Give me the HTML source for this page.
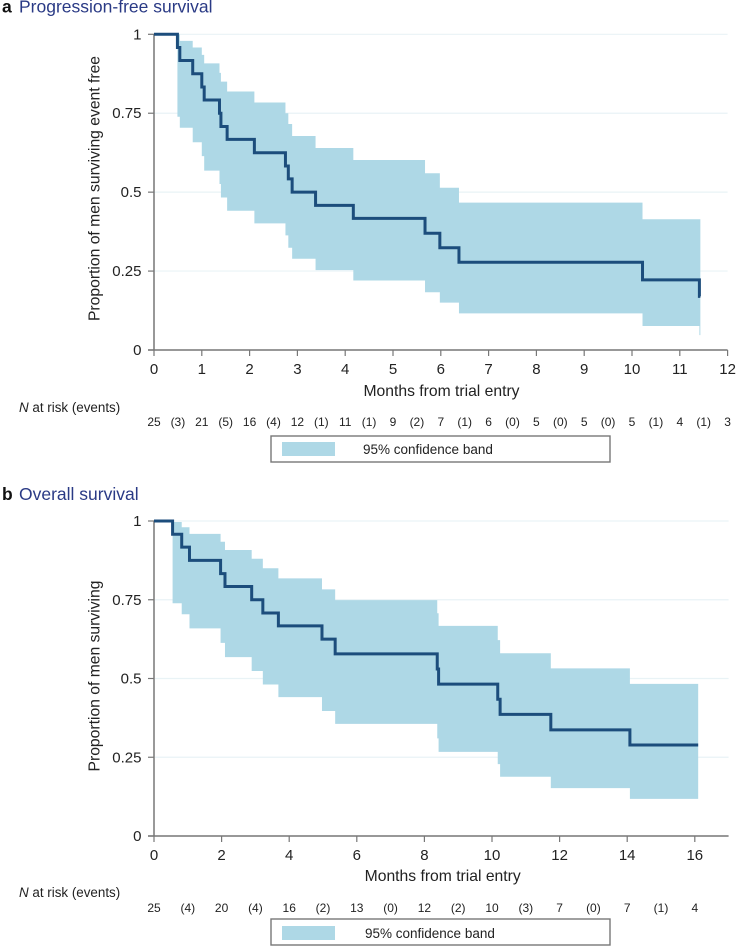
<!DOCTYPE html>
<html lang="en">
<head>
<meta charset="utf-8">
<title>Kaplan-Meier survival curves</title>
<style>
  html, body { margin: 0; padding: 0; background: #fff; }
  #stage { display: block; width: 736px; height: 947px; }
  text { font-family: "Liberation Sans", sans-serif; fill: #222; }
</style>
</head>
<body>
<svg id="stage" width="736" height="947" viewBox="0 0 736 947" xmlns="http://www.w3.org/2000/svg"></svg>
<script>
// Panel a: progression-free survival
const pfsEventMonths = [0.49, 0.54, 0.81, 1.00, 1.05, 1.37, 1.40, 1.53, 2.10, 2.75, 2.81, 2.89, 3.38, 4.17, 5.67, 5.98, 6.38, 10.22, 11.41];
const pfsSurvival = [0.958, 0.917, 0.875, 0.833, 0.792, 0.75, 0.708, 0.667, 0.625, 0.583, 0.542, 0.5, 0.458, 0.417, 0.37, 0.324, 0.278, 0.222, 0.17];
const pfsUpper = [1.0, 0.979, 0.958, 0.935, 0.908, 0.878, 0.85, 0.819, 0.784, 0.75, 0.716, 0.678, 0.64, 0.602, 0.56, 0.514, 0.467, 0.414, 0.414];
const pfsLower = [0.739, 0.704, 0.658, 0.614, 0.568, 0.526, 0.483, 0.441, 0.401, 0.363, 0.324, 0.289, 0.253, 0.22, 0.183, 0.15, 0.116, 0.076, 0.047];
const pfsEndMonth = 11.43;
const pfsXTicks = [0, 1, 2, 3, 4, 5, 6, 7, 8, 9, 10, 11, 12];
const pfsRiskMonths = [0, 0.5, 1, 1.5, 2, 2.5, 3, 3.5, 4, 4.5, 5, 5.5, 6, 6.5, 7, 7.5, 8, 8.5, 9, 9.5, 10, 10.5, 11, 11.5, 12];
const pfsRiskLabels = ["25", "(3)", "21", "(5)", "16", "(4)", "12", "(1)", "11", "(1)", "9", "(2)", "7", "(1)", "6", "(0)", "5", "(0)", "5", "(0)", "5", "(1)", "4", "(1)", "3"];

// Panel b: overall survival
const osEventMonths = [0.55, 0.82, 1.05, 1.97, 2.10, 2.89, 3.22, 3.68, 4.97, 5.36, 8.38, 8.42, 10.17, 10.24, 11.74, 14.08];
const osSurvival = [0.958, 0.917, 0.875, 0.833, 0.792, 0.75, 0.708, 0.667, 0.625, 0.578, 0.53, 0.482, 0.434, 0.386, 0.337, 0.289];
const osUpper = [0.997, 0.98, 0.959, 0.934, 0.908, 0.88, 0.85, 0.818, 0.783, 0.749, 0.707, 0.667, 0.622, 0.58, 0.532, 0.483];
const osLower = [0.739, 0.704, 0.659, 0.613, 0.568, 0.524, 0.481, 0.441, 0.397, 0.356, 0.31, 0.267, 0.228, 0.188, 0.152, 0.118];
const osEndMonth = 16.1;
const osXTicks = [0, 2, 4, 6, 8, 10, 12, 14, 16];
const osRiskMonths = [0, 1, 2, 3, 4, 5, 6, 7, 8, 9, 10, 11, 12, 13, 14, 15, 16];
const osRiskLabels = ["25", "(4)", "20", "(4)", "16", "(2)", "13", "(0)", "12", "(2)", "10", "(3)", "7", "(0)", "7", "(1)", "4"];

const yTickValues = [0, 0.25, 0.5, 0.75, 1];
const yTickLabels = ["0", "0.25", "0.5", "0.75", "1"];

const svg = document.getElementById('stage');
const NS = 'http://www.w3.org/2000/svg';

function make(tag, attrs, content) {
  const el = document.createElementNS(NS, tag);
  for (const key in attrs) el.setAttribute(key, attrs[key]);
  if (content !== undefined) el.textContent = content;
  svg.appendChild(el);
  return el;
}

function drawPanel(cfg) {
  const xScale = m => cfg.x0 + m * cfg.pxPerMonth;
  const yScale = v => cfg.y0 - v * cfg.pxPerUnit;

  // Gridlines
  yTickValues.forEach(v => {
    if (v === 0) return;
    const grid = make('line', { x1: xScale(0), x2: xScale(cfg.xMax), y1: yScale(v), y2: yScale(v), stroke: '#e9f3f6', 'stroke-width': 1.2 });
    
    
  });

  // Confidence band
  const times = cfg.months;
  const upperPts = [];
  const lowerPts = [];
  times.forEach((t, i) => {
    const next = i + 1 < times.length ? times[i + 1] : cfg.end;
    upperPts.push(xScale(t) + ',' + yScale(cfg.upper[i]), xScale(next) + ',' + yScale(cfg.upper[i]));
    lowerPts.unshift(xScale(next) + ',' + yScale(cfg.lower[i]), xScale(t) + ',' + yScale(cfg.lower[i]));
  });
  const band = make('polygon', { points: upperPts.concat(lowerPts).join(' '), fill: '#aed8e6' });
  
  

  // Axes
  const yAxis = make('line', { x1: xScale(0), x2: xScale(0), y1: yScale(1), y2: yScale(0), stroke: cfg.yAxisColor, 'stroke-width': cfg.yAxisWidth });
  
  
  const xAxis = make('line', { x1: xScale(0) - 6, x2: xScale(cfg.xMax), y1: yScale(0), y2: yScale(0), stroke: '#777', 'stroke-width': 1.4 });
  
  

  // Survival curve
  let d = 'M' + xScale(0) + ' ' + yScale(1);
  let prev = 1;
  times.forEach((t, i) => {
    d += ' L' + xScale(t) + ' ' + yScale(prev) + ' L' + xScale(t) + ' ' + yScale(cfg.survival[i]);
    prev = cfg.survival[i];
  });
  d += ' L' + xScale(cfg.end) + ' ' + yScale(prev);
  const curve = make('path', { d: d, fill: 'none', stroke: '#1c4d7c', 'stroke-width': 3, 'stroke-linejoin': 'miter' });
  
  

  // Y ticks and labels
  yTickValues.forEach((v, i) => {
    const tick = make('line', { x1: xScale(0) - 6, x2: xScale(0), y1: yScale(v), y2: yScale(v), stroke: '#777', 'stroke-width': 1.2 });
    
    
    const label = make('text', { x: 141.5, y: yScale(v) + 5, 'text-anchor': 'end', 'font-size': 15 }, yTickLabels[i]);
    
    
  });

  // X ticks and labels
  cfg.xTicks.forEach(m => {
    const tick = make('line', { x1: xScale(m), x2: xScale(m), y1: yScale(0), y2: yScale(0) + 6, stroke: '#777', 'stroke-width': 1.2 });
    
    
    const label = make('text', { x: xScale(m), y: yScale(0) + 24, 'text-anchor': 'middle', 'font-size': 15 }, String(m));
    
    
  });

  // Risk table
  cfg.riskMonths.forEach((m, i) => {
    const cell = make('text', { x: xScale(m), y: cfg.riskY, 'text-anchor': 'middle', 'font-size': 12 }, cfg.riskLabels[i]);
    
    
  });
}

drawPanel({
  x0: 154, pxPerMonth: 47.8, y0: 350, pxPerUnit: 315.7, xMax: 12,
  months: pfsEventMonths, survival: pfsSurvival, upper: pfsUpper, lower: pfsLower, end: pfsEndMonth,
  xTicks: pfsXTicks, riskMonths: pfsRiskMonths, riskLabels: pfsRiskLabels, riskY: 426,
  yAxisColor: '#777', yAxisWidth: 1.5
});

drawPanel({
  x0: 154, pxPerMonth: 33.8, y0: 836, pxPerUnit: 315, xMax: 17,
  months: osEventMonths, survival: osSurvival, upper: osUpper, lower: osLower, end: osEndMonth,
  xTicks: osXTicks, riskMonths: osRiskMonths, riskLabels: osRiskLabels, riskY: 912,
  yAxisColor: '#999', yAxisWidth: 2
});
</script>

<script>
function staticText(x, y, size, str, name, extra) {
  const el = document.createElementNS(NS, 'text');
  el.setAttribute('x', x);
  el.setAttribute('y', y);
  el.setAttribute('font-size', size);
  for (const key in (extra || {})) el.setAttribute(key, extra[key]);
  el.textContent = str;
  
  
  svg.appendChild(el);
  return el;
}

staticText(2, 12.5, 17.5, 'a', 'panel-a-letter', { 'font-weight': 'bold', style: 'fill:#111' });
staticText(19, 12.5, 17.5, 'Progression-free survival', 'panel-a-title', { style: 'fill:#2a3a85' });
staticText(2, 500, 17.5, 'b', 'panel-b-letter', { 'font-weight': 'bold', style: 'fill:#111' });
staticText(19, 500, 17.5, 'Overall survival', 'panel-b-title', { style: 'fill:#2a3a85' });

staticText(441.5, 396, 15.7, 'Months from trial entry', 'panel-a-x-axis-title', { 'text-anchor': 'middle' });
staticText(442.7, 881, 15.7, 'Months from trial entry', 'panel-b-x-axis-title', { 'text-anchor': 'middle' });

staticText(99.5, 188.5, 15.7, 'Proportion of men surviving event free', 'panel-a-y-axis-title', { 'text-anchor': 'middle', transform: 'rotate(-90 99.5 188.5)' });
staticText(99.5, 676, 15.7, 'Proportion of men surviving', 'panel-b-y-axis-title', { 'text-anchor': 'middle', transform: 'rotate(-90 99.5 676)' });

function riskHeader(y, panel) {
  const el = document.createElementNS(NS, 'text');
  el.setAttribute('x', 19);
  el.setAttribute('y', y);
  el.setAttribute('font-size', 13.4);
  const n = document.createElementNS(NS, 'tspan');
  n.setAttribute('font-style', 'italic');
  n.textContent = 'N';
  el.appendChild(n);
  el.appendChild(document.createTextNode(' at risk (events)'));
  
  
  svg.appendChild(el);
}
riskHeader(412, 'panel-a');
riskHeader(897, 'panel-b');

function legend(top, height, swatchTop, panel, textX) {
  const box = document.createElementNS(NS, 'rect');
  box.setAttribute('x', 271);
  box.setAttribute('y', top);
  box.setAttribute('width', 339);
  box.setAttribute('height', height);
  box.setAttribute('fill', '#fff');
  box.setAttribute('stroke', '#777');
  box.setAttribute('stroke-width', 1.4);
  
  
  svg.appendChild(box);
  const swatch = document.createElementNS(NS, 'rect');
  swatch.setAttribute('x', 282);
  swatch.setAttribute('y', swatchTop);
  swatch.setAttribute('width', 53);
  swatch.setAttribute('height', 14);
  swatch.setAttribute('fill', '#aed8e6');
  
  
  svg.appendChild(swatch);
  staticText(textX, swatchTop + 12, 13.5, '95% confidence band', panel + '-legend-label');
}
legend(436, 26, 442, 'panel-a', 363);
legend(919, 26, 926, 'panel-b', 365);
</script>
</body>
</html>
